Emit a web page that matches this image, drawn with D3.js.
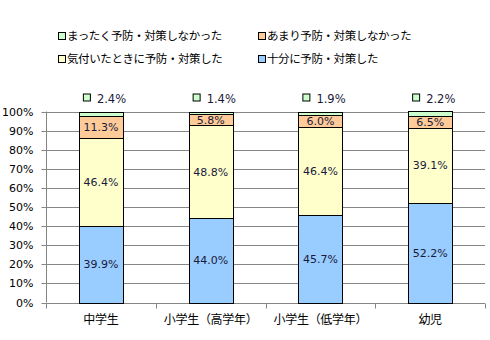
<!DOCTYPE html>
<html><head><meta charset="utf-8">
<script src="https://cdn.jsdelivr.net/npm/d3@7"></script>
<style>body{margin:0;background:#fff}svg{display:block}</style>
</head><body>
<svg id="c" width="490" height="340"></svg>
<script>
const categories = ["中学生", "小学生（高学年）", "小学生（低学年）", "幼児"];
const seriesNames = ["十分に予防・対策した", "気付いたときに予防・対策した", "あまり予防・対策しなかった", "まったく予防・対策しなかった"];
const fullyPrepared = [39.9, 44.0, 45.7, 52.2];
const whenNoticed = [46.4, 48.8, 46.4, 39.1];
const notMuch = [11.3, 5.8, 6.0, 6.5];
const notAtAll = [2.4, 1.4, 1.9, 2.2];
const colors = ["#99CCFF", "#FFFFCC", "#FFCC99", "#CCFFCC"];
const yTicks = [0, 10, 20, 30, 40, 50, 60, 70, 80, 90, 100];

const series = [fullyPrepared, whenNoticed, notMuch, notAtAll];
const svg = d3.select("#c");
const jp = "'Noto Sans CJK JP', sans-serif";
const num = "'DejaVu Sans', Verdana, sans-serif";

const x = d3.scaleBand().domain(categories).range([46, 485]).paddingInner(0).paddingOuter(0);
const y = d3.scaleLinear().domain([0, 100]).range([302.5, 111.5]);
const bw = x.bandwidth() * 0.4;

// gridlines
svg.append("g").selectAll("line").data(yTicks.slice(1)).join("line")
  .attr("x1", 46).attr("x2", 485)
  .attr("y1", d => Math.round(y(d)) + 0.5).attr("y2", d => Math.round(y(d)) + 0.5)
  .attr("stroke", "#868686").attr("stroke-width", 1);

// y axis
const ya = svg.append("g").attr("transform", "translate(46.5,0)")
  .call(d3.axisLeft(y).tickValues(yTicks).tickFormat(d => d + "%").tickSize(5).tickPadding(8));
ya.select(".domain").attr("stroke", "#868686").attr("d", `M0,${y(100)}V${y(0)}`);
ya.selectAll(".tick line").attr("stroke", "#868686");
ya.selectAll(".tick").attr("transform", d => `translate(0,${Math.round(y(d)) + 0.5})`);
ya.selectAll("text").attr("font-family", num).attr("font-size", 11).attr("fill", "#000");

// x axis
const xa = svg.append("g").attr("transform", `translate(0,${Math.round(y(0)) + 0.5})`);
xa.append("line").attr("x1", 46).attr("x2", 485).attr("stroke", "#868686");
const tickXs = categories.map(c => x(c)).concat([x(categories[categories.length - 1]) + x.bandwidth()]);
xa.selectAll("line.t").data(tickXs).join("line").attr("class", "t")
  .attr("x1", d => Math.round(d) + 0.5).attr("x2", d => Math.round(d) + 0.5)
  .attr("y1", 0).attr("y2", 5).attr("stroke", "#868686");
xa.selectAll("text").data(categories).join("text")
  .attr("x", d => x(d) + x.bandwidth() / 2).attr("y", 20)
  .attr("text-anchor", "middle").attr("font-family", jp).attr("font-size", 12).attr("fill", "#000")
  .attr("letter-spacing", -0.3)
  .text(d => d);

// stacked bars
categories.forEach((c, i) => {
  let base = 0;
  const cx = x(c) + x.bandwidth() / 2;
  const x0 = Math.round(cx - bw / 2) + 0.5;
  const w = Math.round(bw);
  series.forEach((s, k) => {
    const v = s[i];
    const top = base + v;
    const y0 = Math.round(y(top)) + 0.5;
    const y1 = Math.round(y(base)) + 0.5;
    svg.append("rect").attr("x", x0).attr("y", y0).attr("width", w).attr("height", y1 - y0)
      .attr("fill", colors[k]).attr("stroke", "#000").attr("stroke-width", 1);
    if (k < 3) {
      svg.append("text").attr("x", cx).attr("y", (y(top) + y(base)) / 2 + 4)
        .attr("text-anchor", "middle").attr("font-family", num).attr("font-size", 11)
        .attr("fill", "#1a1a3a").text(v.toFixed(1) + "%");
    } else {
      const ly = y(100) - 13;
      svg.append("rect").attr("x", cx - 17.5).attr("y", ly - 4.5).attr("width", 7).attr("height", 7)
        .attr("fill", colors[k]).attr("stroke", "#000").attr("stroke-width", 1);
      svg.append("text").attr("x", cx - 4).attr("y", ly + 4)
        .attr("font-family", num).attr("font-size", 11.5).attr("fill", "#1a1a3a").text(v.toFixed(1) + "%");
    }
    base = top;
  });
});

// legend
const legendItems = [
  {name: seriesNames[3], color: colors[3], x: 58, y: 35},
  {name: seriesNames[2], color: colors[2], x: 258, y: 35},
  {name: seriesNames[1], color: colors[1], x: 58, y: 58},
  {name: seriesNames[0], color: colors[0], x: 258, y: 58}
];
const lg = svg.append("g").selectAll("g").data(legendItems).join("g")
  .attr("transform", d => `translate(${d.x},${d.y})`);
lg.append("rect").attr("x", 0.5).attr("y", -2.5).attr("width", 7).attr("height", 7)
  .attr("fill", d => d.color).attr("stroke", "#000");
lg.append("text").attr("x", 9).attr("y", 4.5).attr("font-family", jp).attr("font-size", 11.5)
  .attr("letter-spacing", -0.4).attr("fill", "#000").text(d => d.name);
</script>
</body></html>
